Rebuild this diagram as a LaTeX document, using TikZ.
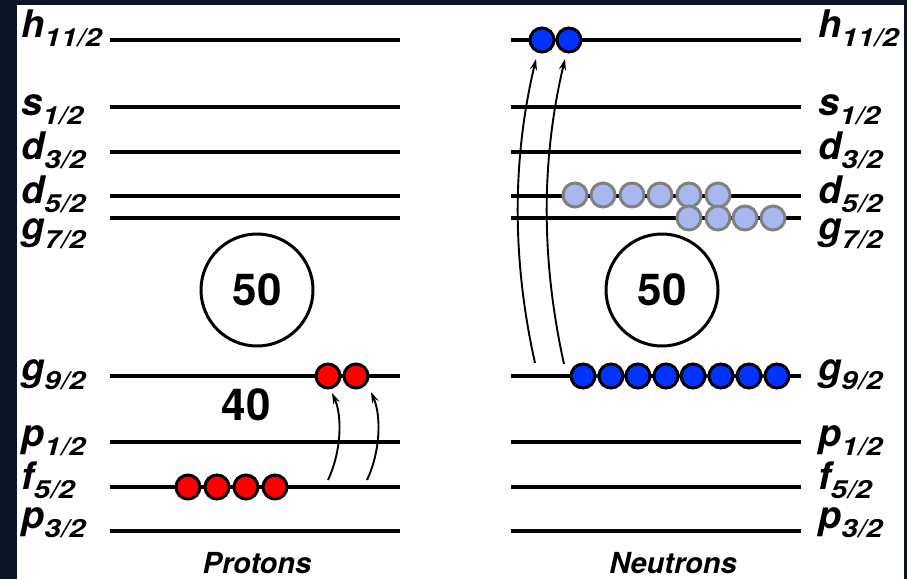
\documentclass[tikz,border=0pt]{standalone}
\usepackage{fontspec}
\usepackage{graphicx}
\setmainfont{TeX Gyre Heros}
\usetikzlibrary{arrows.meta}
\definecolor{frame}{HTML}{0B1527}
\definecolor{eblue}{RGB}{0,51,255}
\definecolor{elight}{RGB}{168,184,238}
\definecolor{erim}{RGB}{128,128,128}
% orbital label: big letter with a wide, lowered subscript
\newcommand\orb[2]{{\fontsize{38}{40}\selectfont #1}\raisebox{-9pt}{\scalebox{1.18}[1]{\fontsize{25}{26}\selectfont #2}}}
\tikzset{
  level/.style={line width=4pt},
  lab/.style={inner sep=0pt, anchor=base west, font=\bfseries\itshape},
  proton/.style={circle, draw=black, fill=red, line width=3pt, minimum size=24pt, inner sep=0pt},
  neutron/.style={circle, draw=black, fill=eblue, line width=3pt, minimum size=24pt, inner sep=0pt},
  hole/.style={circle, draw=erim, fill=elight, line width=3pt, minimum size=24pt, inner sep=0pt},
  magic/.style={circle, draw=black, line width=3pt, minimum size=112pt, inner sep=0pt, font=\fontsize{44}{44}\selectfont\bfseries},
  jump/.style={line width=1.9pt, -{Stealth[length=11pt,width=7pt]}},
  title/.style={inner sep=0pt, anchor=base, font=\fontsize{29}{30}\selectfont\bfseries\itshape}
}
\begin{document}
\begin{tikzpicture}[x=1pt,y=-1pt]
  % frame and canvas
  \fill[frame] (0,0) rectangle (907,579);
  \fill[white] (17,5) rectangle (904,579);
  \useasboundingbox (0,0) rectangle (907,579);

  % single-particle levels, protons (left) and neutrons (right)
  \foreach \y in {40,107,152,196,218,376,442,487,531} {
    \draw[level] (110,\y) -- (400,\y);
    \draw[level] (511,\y) -- (801,\y);
  }

  % orbital labels
  \foreach \x in {21,818} {
    \node[lab] at (\x,37)  {\orb{h}{11/2}};
    \node[lab] at (\x,115) {\orb{s}{1/2}};
    \node[lab] at (\x,159) {\orb{d}{3/2}};
    \node[lab] at (\x,203) {\orb{d}{5/2}};
    \node[lab] at (\x,239) {\orb{g}{7/2}};
    \node[lab] at (\x,380) {\orb{g}{9/2}};
    \node[lab] at (\x,446) {\orb{p}{1/2}};
    \node[lab] at (\x,489) {\orb{f}{5/2}};
    \node[lab] at (\x,528) {\orb{p}{3/2}};
  }

  % magic numbers
  \node[magic] (m50p) at (257,290) {50};
  \node[magic] (m50n) at (662,290) {50};
  \node[inner sep=0pt, font=\fontsize{44}{44}\selectfont\bfseries] (m40) at (246,405) {40};

  % proton transitions f5/2 -> g9/2
  \coordinate (pa) at (328,480);
  \coordinate (pb) at (367,480);
  \coordinate (pta) at (332,393);
  \coordinate (ptb) at (371,392);
  \draw[jump] (pa) .. controls (342,450) and (342,415) .. (pta);
  \draw[jump] (pb) .. controls (381,450) and (381,415) .. (ptb);

  % neutron transitions g9/2 -> h11/2
  \coordinate (na) at (535,363);
  \coordinate (nb) at (564,364);
  \coordinate (nta) at (536,59);
  \coordinate (ntb) at (565,59);
  \draw[jump] (na) .. controls (512,260) and (512,160) .. (nta);
  \draw[jump] (nb) .. controls (541,260) and (541,160) .. (ntb);

  % protons
  \node[proton] (p1) at (188,487) {};
  \node[proton] (p2) at (217,487) {};
  \node[proton] (p3) at (246,487) {};
  \node[proton] (p4) at (275,487) {};
  \node[proton] (p5) at (328,376) {};
  \node[proton] (p6) at (356,376) {};

  % neutrons in g9/2 and h11/2
  \foreach \x [count=\i] in {583,611,638,666,693,721,749,777}
    \node[neutron] (ng\i) at (\x,376) {};
  \node[neutron] (nh1) at (542,40) {};
  \node[neutron] (nh2) at (569,40) {};

  % partially occupied d5/2 and g7/2
  \foreach \x [count=\i] in {575,603,632,660,689,718}
    \node[hole] (nd\i) at (\x,195) {};
  \foreach \x [count=\i] in {689,718,745,773}
    \node[hole] (nq\i) at (\x,218) {};

  % titles
  \node[title] (prot) at (257,573) {Protons};
  \node[title] (neut) at (673,573) {Neutrons};
\end{tikzpicture}
\end{document}
